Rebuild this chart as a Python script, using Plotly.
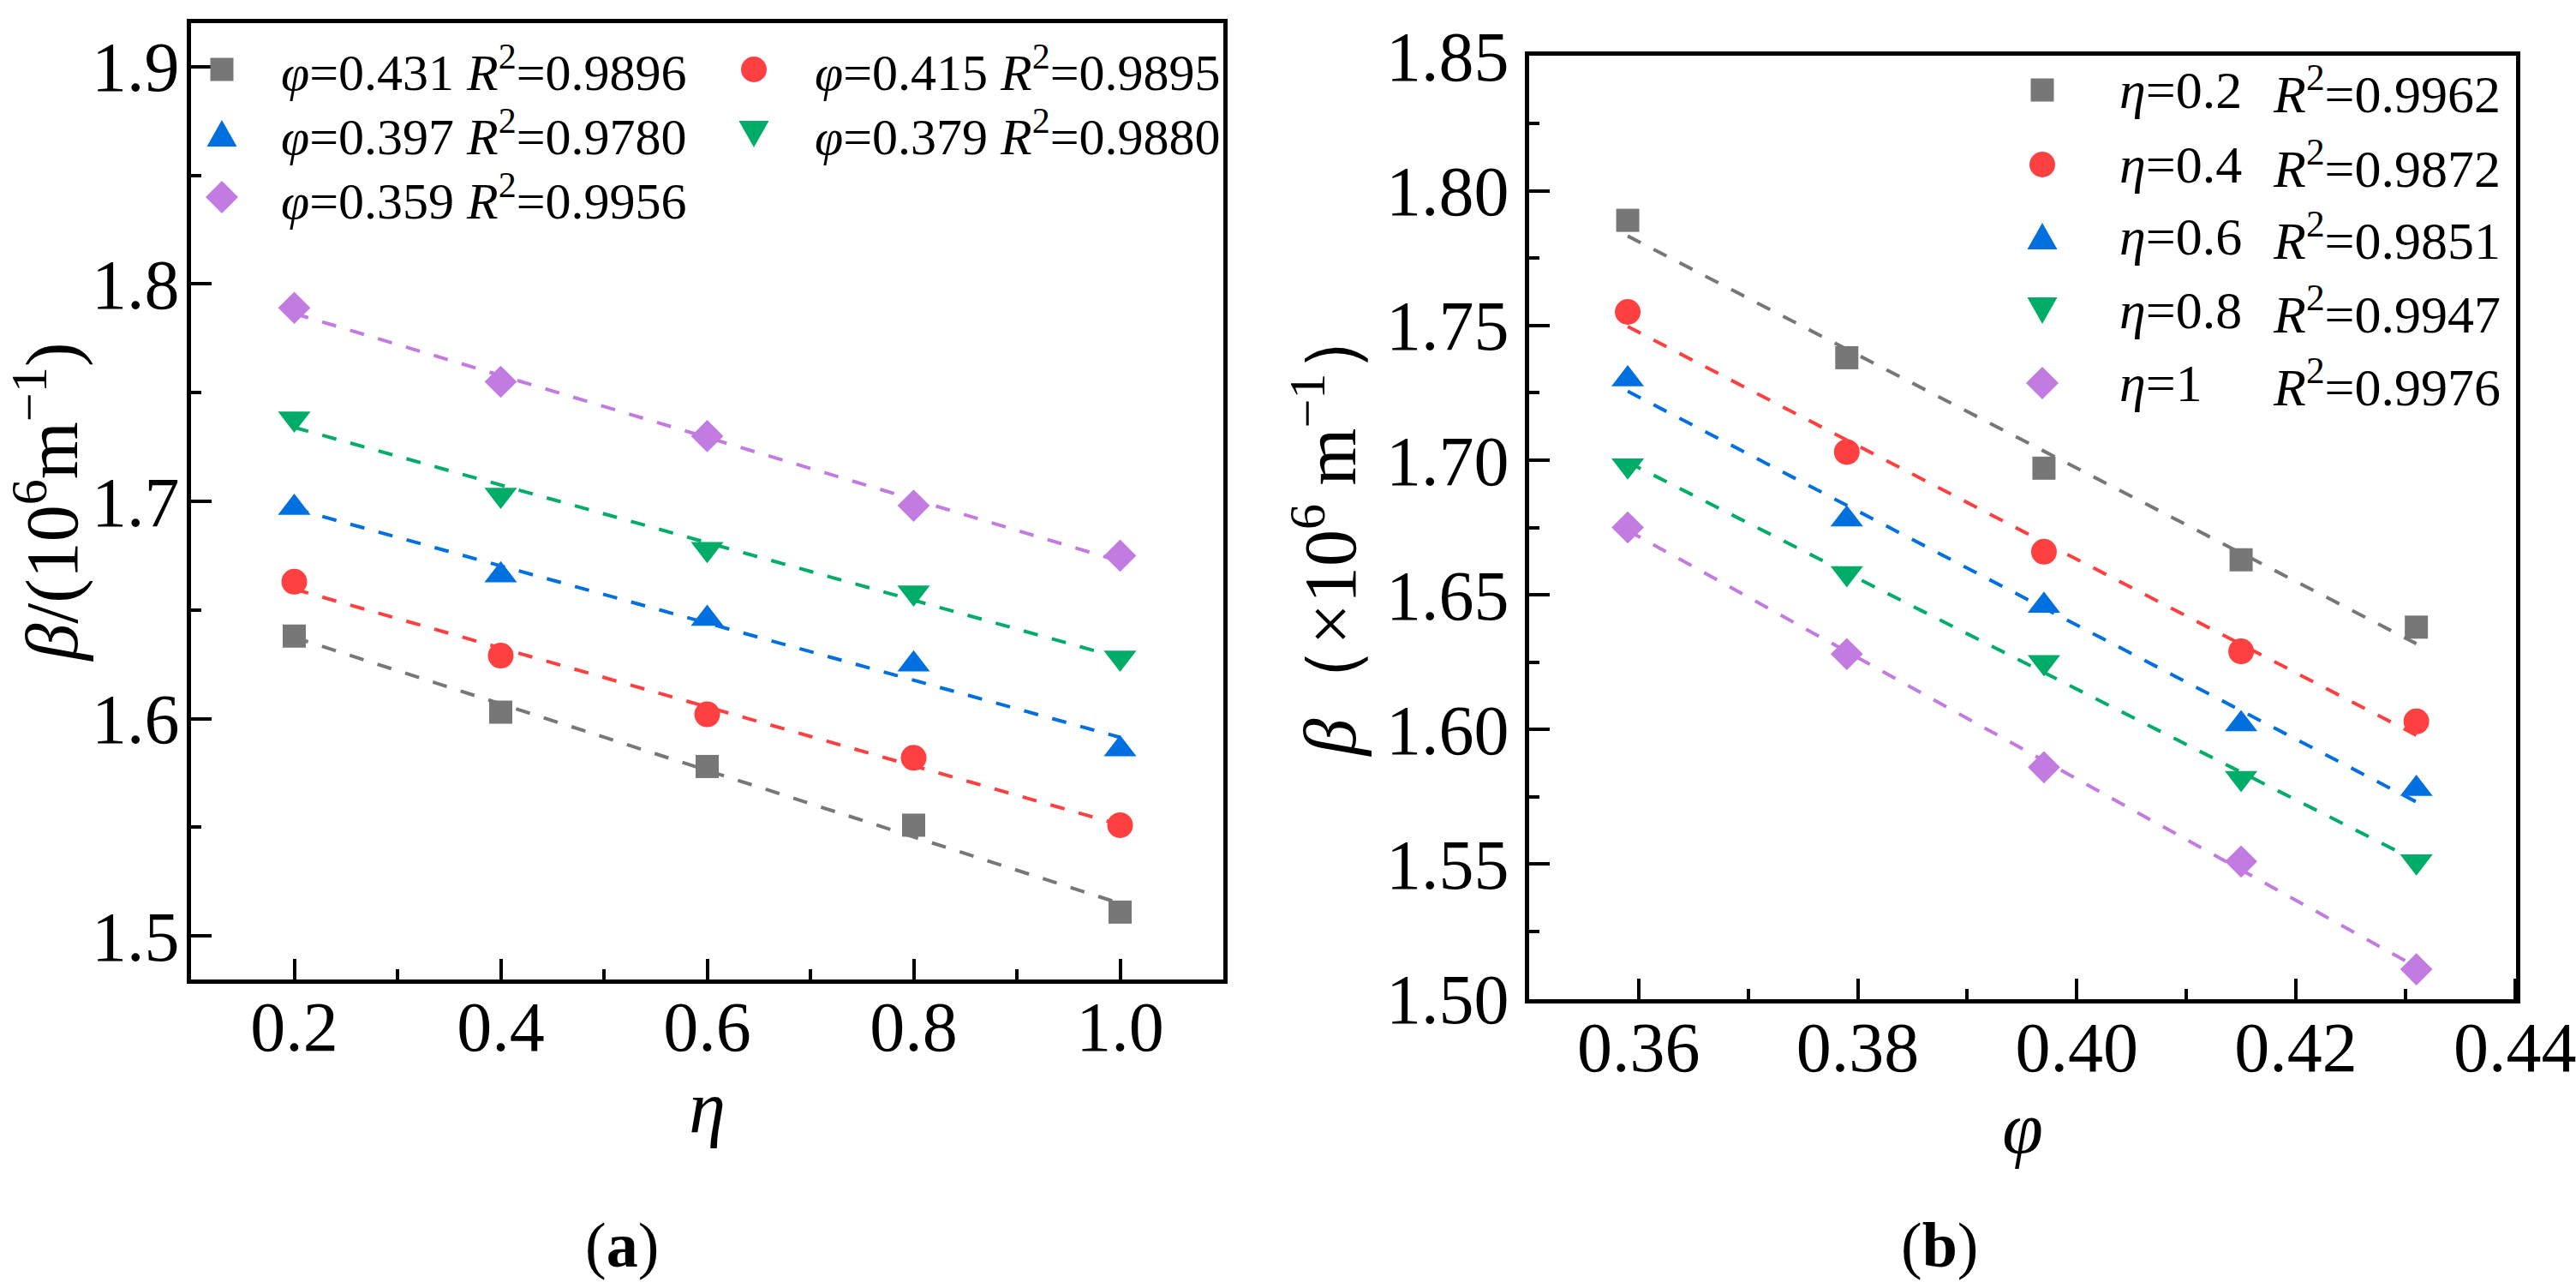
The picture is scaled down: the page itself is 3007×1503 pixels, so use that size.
import numpy as np
import plotly.graph_objects as go

# ---------------- data ----------------
eta = [0.2, 0.4, 0.6, 0.8, 1.0]
phi = [0.359, 0.379, 0.397, 0.415, 0.431]

# beta (10^6 m^-1) for each eta, listed along phi
beta_eta_02 = [1.789, 1.738, 1.697, 1.663, 1.638]
beta_eta_04 = [1.755, 1.703, 1.666, 1.629, 1.603]
beta_eta_06 = [1.730, 1.678, 1.646, 1.602, 1.578]
beta_eta_08 = [1.698, 1.658, 1.625, 1.582, 1.551]
beta_eta_10 = [1.675, 1.628, 1.586, 1.551, 1.511]
beta_rows = [beta_eta_02, beta_eta_04, beta_eta_06, beta_eta_08, beta_eta_10]

# panel (a) series order (by phi) and R^2
left_phi_order = [0.431, 0.415, 0.397, 0.379, 0.359]
left_phi_labels = ["0.431", "0.415", "0.397", "0.379", "0.359"]
left_r2 = ["0.9896", "0.9895", "0.9780", "0.9880", "0.9956"]

# panel (b) series (by eta) and R^2
right_eta_labels = ["0.2", "0.4", "0.6", "0.8", "1"]
right_r2 = ["0.9962", "0.9872", "0.9851", "0.9947", "0.9976"]

x_ticks_a = [0.2, 0.4, 0.6, 0.8, 1.0]
y_ticks_a = [1.5, 1.6, 1.7, 1.8, 1.9]
x_ticks_b = [0.36, 0.38, 0.40, 0.42, 0.44]
y_ticks_b = [1.50, 1.55, 1.60, 1.65, 1.70, 1.75, 1.80, 1.85]

# ---------------- style ----------------
W, H = 3007, 1503
FONT = "Liberation Serif"
TICK_SIZE = 82
TITLE_SIZE = 86
colors = ["#777777", "#FF4040", "#0070E0", "#00AD68", "#C27BE0"]
symbols = ["square", "circle", "triangle-up", "triangle-down", "diamond"]
msizes = [27, 30, 33, 33, 29]
DASH = "17px,17px"

fig = go.Figure()


def add_fit(xs, ys, k, xa, ya):
    a, b = np.polyfit(xs, ys, 1)
    xf = [min(xs), max(xs)]
    fig.add_trace(go.Scatter(
        x=xf, y=[a * v + b for v in xf], mode="lines",
        line=dict(color=colors[k], width=4, dash=DASH),
        xaxis=xa, yaxis=ya, showlegend=False, hoverinfo="skip"))


def add_markers(xs, ys, k, xa, ya):
    fig.add_trace(go.Scatter(
        x=xs, y=ys, mode="markers",
        marker=dict(symbol=symbols[k], size=msizes[k], color=colors[k], line=dict(width=0)),
        xaxis=xa, yaxis=ya, showlegend=False))


# panel (a): beta vs eta, one series per phi
left_series = []
for ph in left_phi_order:
    j = phi.index(ph)
    left_series.append([row[j] for row in beta_rows])
for k, ys in enumerate(left_series):
    add_fit(eta, ys, k, "x", "y")
for k, ys in enumerate(left_series):
    add_markers(eta, ys, k, "x", "y")

# panel (b): beta vs phi, one series per eta
for k, ys in enumerate(beta_rows):
    add_fit(phi, ys, k, "x2", "y2")
for k, ys in enumerate(beta_rows):
    add_markers(phi, ys, k, "x2", "y2")


def px_x(p):
    return p / W


def px_y(p):
    return 1 - p / H


def minor(dt, t0):
    return dict(dtick=dt, tick0=t0, ticks="inside", ticklen=12, tickwidth=4, tickcolor="black")


def title(txt, standoff):
    return dict(text=txt, standoff=standoff,
                font=dict(family=FONT, size=TITLE_SIZE, color="black"))


axis_common = dict(
    showline=True, linecolor="black", linewidth=5, mirror=True,
    ticks="inside", ticklen=24, tickwidth=4, tickcolor="black",
    showgrid=False, zeroline=False, automargin=False, ticklabeloverflow="allow",
    tickfont=dict(family=FONT, size=TICK_SIZE, color="black"),
)

fig.update_layout(
    width=W, height=H,
    margin=dict(l=0, r=0, t=0, b=0, pad=0),
    paper_bgcolor="white", plot_bgcolor="white",
    showlegend=False,
    font=dict(family=FONT, size=TICK_SIZE, color="black"),
    xaxis=dict(domain=[px_x(223), px_x(1428)], range=[0.1, 1.1], anchor="y",
               tickvals=x_ticks_a, tickformat=".1f", ticklabelstandoff=-20,
               minor=minor(0.1, 0.1), title=title("<i>η</i>", 0), **axis_common),
    yaxis=dict(domain=[px_y(1143), px_y(27)], range=[1.48, 1.92], anchor="x",
               tickvals=y_ticks_a, tickformat=".1f", ticklabelstandoff=-8,
               minor=minor(0.05, 1.45),
               title=title("<i>β</i>/(10<sup>6</sup>m<sup>−1</sup>)", 2), **axis_common),
    xaxis2=dict(domain=[px_x(1785), px_x(2937)], range=[0.35, 0.4401], anchor="y2",
                tickvals=x_ticks_b, tickformat=".2f", ticklabelstandoff=-19,
                minor=minor(0.01, 0.35), title=title("<i>φ</i>", 0), **axis_common),
    yaxis2=dict(domain=[px_y(1166), px_y(65)], range=[1.4999, 1.8501], anchor="x2",
                tickvals=y_ticks_b, tickformat=".2f", ticklabelstandoff=2,
                minor=minor(0.025, 1.475),
                title=title("<i>β</i>（×10<sup>6</sup> m<sup>−1</sup>）", 8), **axis_common),
)

# ---------------- custom legends (large symbols, as in the figure) ----------------
shapes = []
annotations = []


def legend_symbol(k, xpx, ypx):
    base = dict(xref="paper", yref="paper", xsizemode="pixel", ysizemode="pixel",
                xanchor=px_x(xpx), yanchor=px_y(ypx), fillcolor=colors[k],
                line=dict(width=0), layer="above")
    sym = symbols[k]
    if sym == "square":
        return dict(type="rect", x0=-13.5, x1=13.5, y0=-13.5, y1=13.5, **base)
    if sym == "circle":
        return dict(type="circle", x0=-15, x1=15, y0=-15, y1=15, **base)
    if sym == "triangle-up":
        return dict(type="path", path="M-17.5,-15 L17.5,-15 L0,16 Z", **base)
    if sym == "triangle-down":
        return dict(type="path", path="M-17.5,15 L17.5,15 L0,-16 Z", **base)
    return dict(type="path", path="M0,19 L19,0 L0,-19 L-19,0 Z", **base)


def text_ann(txt, xpx, ypx, size):
    return dict(text=txt, x=px_x(xpx), y=px_y(ypx), xref="paper", yref="paper",
                xanchor="left", yanchor="middle", showarrow=False,
                font=dict(family=FONT, size=size, color="black"))


left_rows = [81, 156, 230]
left_mx = [259, 880]
left_tx = [326, 949]
for k in range(5):
    r, c = divmod(k, 2)
    shapes.append(legend_symbol(k, left_mx[c], left_rows[r]))
    annotations.append(text_ann(
        f"<i>φ</i>={left_phi_labels[k]} <i>R</i><sup>2</sup>={left_r2[k]}",
        left_tx[c], left_rows[r], 60))

right_rows = [105, 192, 276, 362, 447]
for k in range(5):
    shapes.append(legend_symbol(k, 2384, right_rows[k]))
    annotations.append(text_ann(f"<i>η</i>={right_eta_labels[k]}", 2472, right_rows[k], 62))
    annotations.append(text_ann(f"<i>R</i><sup>2</sup>={right_r2[k]}", 2651, right_rows[k], 62))

for lab, xpx in (("a", 726), ("b", 2264)):
    annotations.append(dict(text=f"(<b>{lab}</b>)", x=px_x(xpx), y=px_y(1453),
                            xref="paper", yref="paper",
                            xanchor="center", yanchor="middle", showarrow=False,
                            font=dict(family=FONT, size=74, color="black")))

fig.update_layout(shapes=shapes, annotations=annotations)

fig.write_html("out.html", config={"displayModeBar": False},
               post_script="document.body.style.margin='0px';")
